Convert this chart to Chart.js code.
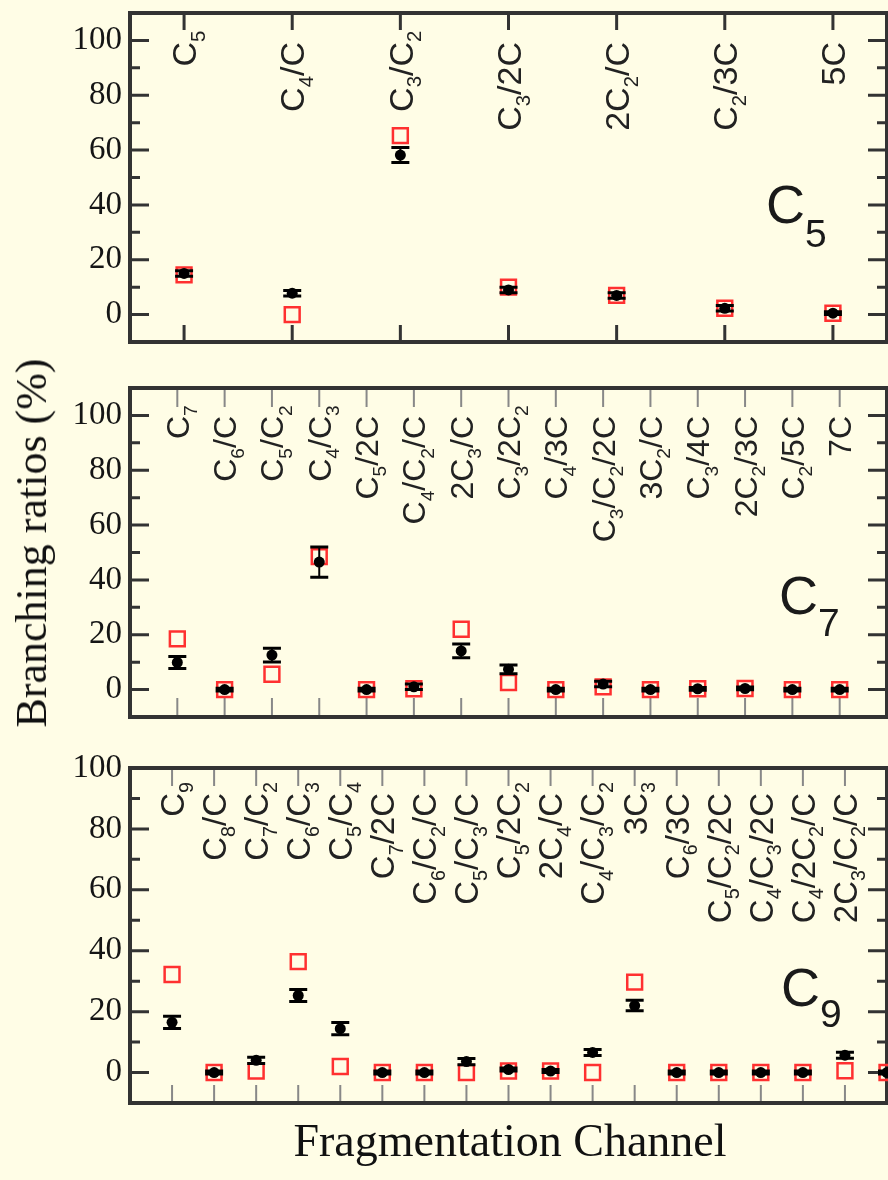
<!DOCTYPE html>
<html>
<head>
<meta charset="utf-8">
<script src="https://cdn.jsdelivr.net/npm/chart.js@4.4.1/dist/chart.umd.min.js"></script>
<style>
  html, body { margin: 0; padding: 0; background: #fffde6; width: 888px; height: 1180px; overflow: hidden; position: relative; }
  canvas { position: absolute; left: 0; }
  .axis-title { position: absolute; font-family: "Liberation Serif", "DejaVu Serif", serif; color: #111; white-space: nowrap; line-height: 1; }
  #ytitle { font-size: 44px; left: 32px; top: 543px; transform: translate(-50%, -50%) rotate(-90deg); }
  #xtitle { font-size: 46px; left: 510px; top: 1118px; transform: translateX(-50%); }
</style>
</head>
<body>
<canvas id="panelC5" width="900" height="360" style="top:0px"></canvas>
<canvas id="panelC7" width="900" height="370" style="top:360px"></canvas>
<canvas id="panelC9" width="900" height="380" style="top:740px"></canvas>
<div class="axis-title" id="ytitle">Branching ratios (%)</div>
<div class="axis-title" id="xtitle">Fragmentation Channel</div>
<script>
// ---- C5 fragmentation channels ----
const c5Channels   = ['C5', 'C4/C', 'C3/C2', 'C3/2C', '2C2/C', 'C2/3C', '5C'];
const c5Measured   = [15, 7.8, 58.2, 9, 7, 2.3, 0.5];
const c5MeasuredEr = [1, 1, 2.7, 1, 1, 1, 0.5];
const c5Calculated = [14.5, 0, 65.3, 10, 7, 2.3, 0.5];

// ---- C7 fragmentation channels ----
const c7Channels   = ['C7', 'C6/C', 'C5/C2', 'C4/C3', 'C5/2C', 'C4/C2/C', '2C3/C', 'C3/2C2',
                      'C4/3C', 'C3/C2/2C', '3C2/C', 'C3/4C', '2C2/3C', 'C2/5C', '7C'];
const c7Measured   = [9.9, 0, 12.6, 46.5, 0, 1, 14.1, 7.4, 0, 2, 0, 0.3, 0.4, 0, 0];
const c7MeasuredEr = [2.2, 0.5, 2.5, 5.5, 0.5, 1, 2.5, 1.6, 0.5, 1, 0.5, 0.5, 0.5, 0.5, 0.5];
const c7Calculated = [18.5, 0, 5.6, 48.5, 0, 0.3, 22, 2.6, 0, 1, 0, 0.3, 0.4, 0, 0];

// ---- C9 fragmentation channels ----
const c9Channels   = ['C9', 'C8/C', 'C7/C2', 'C6/C3', 'C5/C4', 'C7/2C', 'C6/C2/C', 'C5/C3/C', 'C5/2C2',
                      '2C4/C', 'C4/C3/C2', '3C3', 'C6/3C', 'C5/C2/2C', 'C4/C3/2C', 'C4/2C2/C', '2C3/C2/C', ''];
const c9Measured   = [16.5, 0, 4, 25.3, 14.4, 0, 0, 3.6, 1, 0.5, 6.6, 22, 0, 0, 0, 0, 5.7, 0];
const c9MeasuredEr = [2, 0.5, 1, 2, 2, 0.5, 0.5, 1, 0.5, 0.5, 1, 1.7, 0.5, 0.5, 0.5, 0.5, 1, 0.5];
const c9Calculated = [32.2, 0, 0.5, 36.4, 2, 0, 0, 0, 0.5, 0.5, 0, 29.7, 0, 0, 0, 0, 0.6, 0];

// ---- shared axis ticks ----
const yMajorTicks = [0, 20, 40, 60, 80, 100];
const yMinorTicks = [10, 30, 50, 70, 90];

const SERIF = '"Liberation Serif", "DejaVu Serif", serif';
const SANS  = '"Liberation Sans", Arial, "DejaVu Sans", sans-serif';

// split a channel name into runs; a digit right after "C" is a subscript
function formulaRuns(text) {
  const runs = [];
  for (let i = 0; i < text.length; i++) {
    const ch = text[i];
    runs.push({ t: ch, sub: /[0-9]/.test(ch) && i > 0 && text[i - 1] === 'C' });
  }
  return runs;
}

// vertical (reading upward) channel name whose end sits at yEnd
function drawVerticalFormula(ctx, text, x, yEnd, size) {
  const runs = formulaRuns(text);
  const subSize = size * 0.6;
  const mainFont = size + 'px ' + SANS;
  const subFont = subSize + 'px ' + SANS;
  let total = 0, trailing = 0;
  runs.forEach(r => {
    ctx.font = r.sub ? subFont : mainFont;
    r.w = ctx.measureText(r.t).width;
    total += r.w;
  });
  for (let i = runs.length - 1; i >= 0 && runs[i].sub; i--) trailing += runs[i].w;
  ctx.save();
  ctx.translate(x, yEnd);
  ctx.rotate(-Math.PI / 2);
  ctx.textAlign = 'left';
  ctx.textBaseline = 'alphabetic';
  const base = size * 0.36;
  let u = -(total - trailing);
  runs.forEach(r => {
    ctx.font = r.sub ? subFont : mainFont;
    ctx.fillText(r.t, u, r.sub ? base + size * 0.26 : base);
    u += r.w;
  });
  ctx.restore();
}

const framePlugin = {
  id: 'frame',
  beforeDatasetsDraw(chart) {
    const p = chart.options.plugins.frame;
    const { ctx, chartArea: a } = chart;
    const xs = chart.scales.x, ys = chart.scales.y;
    ctx.save();
    // y ticks, left and right, pointing inward
    ctx.strokeStyle = '#333';
    ctx.lineWidth = 3;
    const yTick = (v, len) => {
      const y = ys.getPixelForValue(v);
      ctx.beginPath();
      ctx.moveTo(a.left, y); ctx.lineTo(a.left + len, y);
      ctx.moveTo(a.right, y); ctx.lineTo(a.right - len, y);
      ctx.stroke();
    };
    yMajorTicks.forEach(v => yTick(v, 19));
    yMinorTicks.forEach(v => yTick(v, 10));
    // x ticks, top and bottom
    ctx.strokeStyle = p.xTickColor;
    ctx.lineWidth = p.xTickWidth;
    p.channels.forEach((c, i) => {
      const x = xs.getPixelForValue(i + 1);
      ctx.beginPath();
      ctx.moveTo(x, a.top); ctx.lineTo(x, a.top + p.xTickLen);
      ctx.moveTo(x, a.bottom); ctx.lineTo(x, a.bottom - p.xTickLen);
      ctx.stroke();
    });
    // frame
    ctx.strokeStyle = '#333';
    ctx.lineWidth = 4;
    ctx.strokeRect(a.left, a.top, a.right - a.left, a.bottom - a.top);
    // channel names
    ctx.fillStyle = '#222';
    p.channels.forEach((c, i) => {
      if (!c) return;
      drawVerticalFormula(ctx, c, xs.getPixelForValue(i + 1), a.top + p.labelEnd, p.labelSize);
    });
    // cluster name
    const nx = a.left + p.nameDx, ny = a.top + p.nameDy;
    ctx.fillStyle = '#1a1a1a';
    ctx.textAlign = 'left';
    ctx.textBaseline = 'alphabetic';
    ctx.font = '54px ' + SANS;
    ctx.fillText('C', nx, ny);
    const cw = ctx.measureText('C').width;
    ctx.font = '39px ' + SANS;
    ctx.fillText(p.nameSub, nx + cw, ny + p.nameSubDrop);
    ctx.restore();
  },
  beforeDatasetDraw(chart, args) {
    if (args.index !== 0) return;
    const ds = chart.data.datasets[0];
    const err = chart.options.plugins.frame.errors;
    const { ctx } = chart;
    const xs = chart.scales.x, ys = chart.scales.y;
    ctx.save();
    ctx.strokeStyle = '#000';
    ds.data.forEach((pt, i) => {
      const x = xs.getPixelForValue(pt.x);
      const yHi = ys.getPixelForValue(pt.y + err[i]);
      const yLo = ys.getPixelForValue(pt.y - err[i]);
      ctx.lineWidth = 2;
      ctx.beginPath(); ctx.moveTo(x, yHi); ctx.lineTo(x, yLo); ctx.stroke();
      ctx.lineWidth = 3;
      ctx.beginPath();
      ctx.moveTo(x - 9, yHi); ctx.lineTo(x + 9, yHi);
      ctx.moveTo(x - 9, yLo); ctx.lineTo(x + 9, yLo);
      ctx.stroke();
    });
    ctx.restore();
  }
};

function makePanel(canvasId, cfg) {
  const pts = vals => cfg.channels.map((c, i) => ({ x: i + 1, y: vals[i] }));
  return new Chart(document.getElementById(canvasId), {
    type: 'scatter',
    data: {
      datasets: [
        { label: 'measured', data: pts(cfg.measured), pointStyle: 'circle', pointRadius: 5.5,
          backgroundColor: '#000', borderColor: '#000', borderWidth: 0, order: 1, clip: false },
        { label: 'calculated', data: pts(cfg.calculated), pointStyle: 'rect', pointRadius: 10.5,
          backgroundColor: 'rgba(0,0,0,0)', borderColor: '#ff3030', borderWidth: 2.5, order: 2, clip: false }
      ]
    },
    options: {
      responsive: false,
      animation: false,
      devicePixelRatio: 1,
      events: [],
      layout: { padding: { left: 0, right: 10, top: cfg.padTop, bottom: cfg.padBottom } },
      plugins: {
        legend: { display: false },
        tooltip: { enabled: false },
        frame: {
          channels: cfg.channels, errors: cfg.errors, labelEnd: cfg.labelEnd, labelSize: cfg.labelSize,
          xTickLen: cfg.xTickLen, xTickColor: cfg.xTickColor, xTickWidth: cfg.xTickWidth,
          nameSub: cfg.nameSub, nameDx: cfg.nameDx, nameDy: cfg.nameDy, nameSubDrop: cfg.nameSubDrop
        }
      },
      scales: {
        x: { type: 'linear', min: cfg.xMin, max: cfg.xMax, display: false },
        y: {
          type: 'linear', position: 'left', min: cfg.yMin, max: cfg.yMax,
          grid: { display: false, drawTicks: false },
          border: { display: false },
          ticks: { font: { family: SERIF, size: 33 }, color: '#151515', padding: 8 },
          afterBuildTicks: s => { s.ticks = yMajorTicks.map(v => ({ value: v })); },
          afterFit: s => { s.width = 130; s.paddingTop = 0; s.paddingBottom = 0; }
        }
      }
    },
    plugins: [framePlugin]
  });
}

makePanel('panelC5', {
  channels: c5Channels, measured: c5Measured, errors: c5MeasuredEr, calculated: c5Calculated,
  xMin: 0.5, xMax: 7.5, yMin: -10, yMax: 110, padTop: 12, padBottom: 18,
  labelEnd: 29, labelSize: 34, xTickLen: 17, xTickColor: '#333', xTickWidth: 3,
  nameSub: '5', nameDx: 636, nameDy: 210, nameSubDrop: 24
});
makePanel('panelC7', {
  channels: c7Channels, measured: c7Measured, errors: c7MeasuredEr, calculated: c7Calculated,
  xMin: 0, xMax: 16, yMin: -10, yMax: 110, padTop: 28, padBottom: 10,
  labelEnd: 28, labelSize: 32, xTickLen: 19, xTickColor: '#888', xTickWidth: 2,
  nameSub: '7', nameDx: 649, nameDy: 226, nameSubDrop: 22
});
makePanel('panelC9', {
  channels: c9Channels, measured: c9Measured, errors: c9MeasuredEr, calculated: c9Calculated,
  xMin: 0, xMax: 18, yMin: -10, yMax: 100, padTop: 28, padBottom: 17,
  labelEnd: 25, labelSize: 33, xTickLen: 18, xTickColor: '#888', xTickWidth: 2,
  nameSub: '9', nameDx: 651, nameDy: 238, nameSubDrop: 21
});
</script>
</body>
</html>
